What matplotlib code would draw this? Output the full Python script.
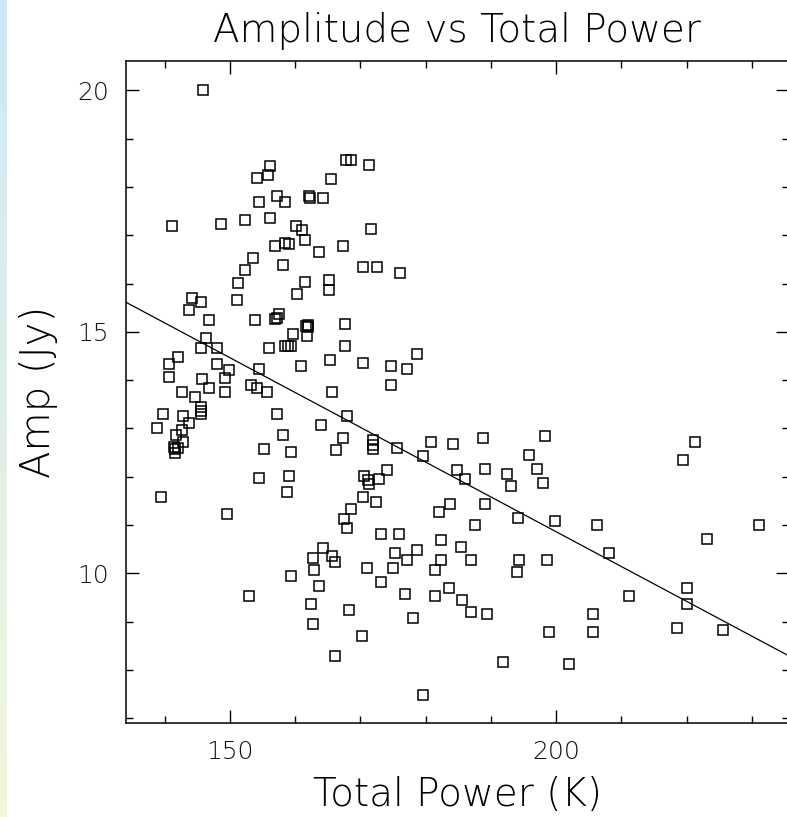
"""Amplitude vs Total Power scatter with linear fit (PGPLOT-style box)."""

import numpy as np
import matplotlib
matplotlib.use("Agg")
import matplotlib.pyplot as plt
from matplotlib.ticker import MultipleLocator

# -- data -------------------------------------------------------------
TOTAL_POWER = [
    145.8, 141.2, 148.6, 152.3, 156.1, 154.4, 157.2, 158.5, 154.1, 155.9,
    156.2, 162.1, 162.2, 164.3, 165.5, 167.8, 168.6, 160.2, 161.1, 161.5,
    158.5, 159.0, 156.9, 163.6, 167.3, 153.5, 152.3, 158.1, 151.3, 161.5,
    165.2, 171.3, 171.6, 170.4, 172.5, 176.0, 151.1, 144.2, 145.6, 143.7,
    146.8, 160.3, 165.2, 153.8, 157.2, 157.5, 156.9, 161.9, 162.0, 161.7,
    159.6, 161.8, 158.4, 159.3, 158.9, 156.0, 160.9, 167.6, 167.6, 165.4,
    165.7, 164.0, 167.3, 166.3, 168.0, 146.4, 145.6, 148.0, 142.1, 140.6,
    140.6, 148.0, 149.9, 149.3, 145.7, 146.8, 149.3, 142.6, 144.6, 145.6,
    145.6, 145.6, 139.7, 142.8, 143.7, 138.8, 142.7, 141.7, 142.8, 141.4,
    141.6, 142.1, 141.6, 153.2, 154.1, 155.7, 154.4, 157.2, 158.1, 155.2,
    159.3, 154.5, 159.0, 158.7, 139.4, 149.5, 168.5, 167.5, 168.0, 164.3,
    162.7, 165.7, 166.1, 162.9, 159.3, 163.7, 152.9, 162.5, 162.7, 168.2,
    166.1, 170.4, 174.7, 177.1, 178.7, 174.7, 171.9, 171.9, 171.9, 175.6,
    179.6, 180.8, 184.2, 188.8, 198.3, 195.9, 197.0, 197.9, 184.8, 186.0,
    189.1, 192.4, 193.1, 174.1, 172.8, 170.5, 171.1, 171.3, 170.4, 172.4,
    182.0, 183.8, 189.1, 194.2, 199.8, 187.5, 173.2, 175.9, 182.3, 185.4,
    175.3, 178.7, 177.1, 182.3, 186.9, 194.3, 194.0, 198.6, 171.0, 175.0,
    181.4, 173.2, 176.8, 181.4, 183.6, 185.5, 186.9, 189.4, 178.0, 170.2,
    198.9, 191.8, 201.9, 179.6, 221.3, 219.4, 206.2, 231.1, 208.1, 223.1,
    211.1, 220.0, 220.0, 205.6, 205.6, 218.5, 225.5,
]
AMP = [
    20.00, 17.19, 17.23, 17.31, 17.36, 17.68, 17.81, 17.69, 18.18, 18.25,
    18.44, 17.81, 17.77, 17.77, 18.16, 18.55, 18.55, 17.19, 17.11, 16.90,
    16.85, 16.82, 16.78, 16.65, 16.78, 16.53, 16.28, 16.38, 16.02, 16.04,
    16.07, 18.46, 17.14, 16.35, 16.35, 16.22, 15.66, 15.71, 15.62, 15.45,
    15.24, 15.78, 15.87, 15.24, 15.29, 15.38, 15.27, 15.15, 15.11, 15.13,
    14.95, 14.92, 14.71, 14.71, 14.71, 14.66, 14.29, 15.16, 14.71, 14.41,
    13.75, 13.08, 12.80, 12.55, 13.25, 14.87, 14.66, 14.66, 14.49, 14.33,
    14.06, 14.33, 14.21, 14.05, 14.03, 13.83, 13.75, 13.75, 13.66, 13.45,
    13.36, 13.30, 13.29, 13.26, 13.12, 13.01, 12.97, 12.86, 12.72, 12.62,
    12.57, 12.59, 12.49, 13.91, 13.83, 13.75, 14.24, 13.29, 12.87, 12.58,
    12.51, 11.97, 12.01, 11.68, 11.59, 11.22, 11.33, 11.12, 10.93, 10.52,
    10.31, 10.36, 10.24, 10.07, 9.94, 9.74, 9.53, 9.36, 8.94, 9.24,
    8.29, 14.35, 14.29, 14.24, 14.54, 13.91, 12.76, 12.66, 12.57, 12.60,
    12.42, 12.71, 12.67, 12.81, 12.84, 12.46, 12.17, 11.88, 12.14, 11.95,
    12.17, 12.05, 11.81, 12.13, 11.96, 12.01, 11.93, 11.85, 11.59, 11.48,
    11.27, 11.43, 11.43, 11.14, 11.08, 11.01, 10.81, 10.81, 10.68, 10.54,
    10.43, 10.48, 10.27, 10.27, 10.27, 10.27, 10.02, 10.27, 10.10, 10.10,
    10.06, 9.81, 9.57, 9.52, 9.69, 9.44, 9.19, 9.15, 9.07, 8.70,
    8.78, 8.16, 8.12, 7.49, 12.71, 12.34, 11.01, 11.01, 10.43, 10.72,
    9.52, 9.69, 9.36, 9.15, 8.78, 8.86, 8.82,
]
# straight-line fit drawn over the points
FIT_SLOPE = -0.0721
FIT_INTERCEPT = 25.28

XLIM = (134.0, 235.67)
YLIM = (6.90, 20.61)

TITLE = "Amplitude vs Total Power"
XLABEL = "Total Power (K)"
YLABEL = "Amp (Jy)"

plt.rcParams["font.family"] = ["DejaVu Sans"]
plt.rcParams["font.weight"] = "light"
plt.rcParams["axes.titleweight"] = "light"
plt.rcParams["axes.labelweight"] = "light"

W, H = 787, 817
fig = plt.figure(figsize=(W / 100, H / 100), dpi=100)

# thin gradient strip on the left edge (page background)
strip = fig.add_axes([0, 0, 7 / W, 1])
grad = np.linspace(0, 1, 256)[:, None]
top = np.array([0.80, 0.91, 0.98])
bot = np.array([0.95, 0.97, 0.85])
strip.imshow(top + grad[..., None] * (bot - top), aspect="auto")
strip.set_axis_off()

left, right, bottom, topy = 125.5, 789, 723, 61
ax = fig.add_axes([left / W, 1 - bottom / H, (right - left) / W, (bottom - topy) / H])

ax.plot(TOTAL_POWER, AMP, "s", mfc="none", mec="black", ms=7.6, mew=1.1)
xs = np.array(XLIM)
ax.plot(xs, FIT_INTERCEPT + FIT_SLOPE * xs, "-", color="black", lw=0.9)

ax.set_xlim(*XLIM)
ax.set_ylim(*YLIM)
ax.xaxis.set_major_locator(MultipleLocator(50))
ax.xaxis.set_minor_locator(MultipleLocator(10))
ax.yaxis.set_major_locator(MultipleLocator(5))
ax.yaxis.set_minor_locator(MultipleLocator(1))
ax.tick_params(which="both", direction="in", top=True, right=True, width=1.0,
               labelsize=18, labelcolor="#111111", pad=12)
ax.tick_params(which="major", length=9.5)
ax.tick_params(which="minor", length=5)
for s in ax.spines.values():
    s.set_linewidth(1.1)

ax.set_title(TITLE, fontsize=28, pad=14)
ax.set_xlabel(XLABEL, fontsize=28, labelpad=9)
ax.set_ylabel(YLABEL, fontsize=29, labelpad=14)

fig.savefig("out.png", dpi=100)
